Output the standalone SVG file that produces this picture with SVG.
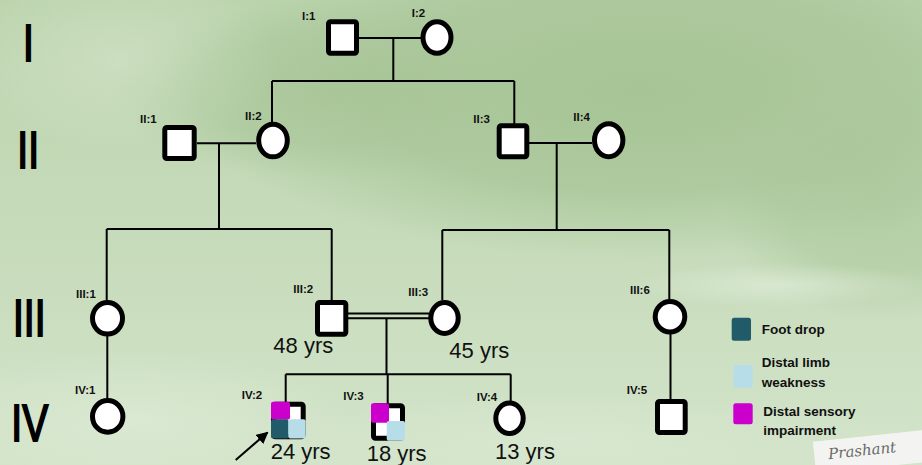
<svg xmlns="http://www.w3.org/2000/svg" width="922" height="465" viewBox="0 0 922 465">
<defs>
  <linearGradient id="bg" x1="0" y1="0" x2="0" y2="1">
    <stop offset="0" stop-color="#bcd4ae"/>
    <stop offset="0.5" stop-color="#c6dbba"/>
    <stop offset="1" stop-color="#d3e4ca"/>
  </linearGradient>
  <radialGradient id="dark1" cx="0.5" cy="0.5" r="0.5">
    <stop offset="0" stop-color="#a6c495" stop-opacity="1"/>
    <stop offset="0.6" stop-color="#a9c699" stop-opacity="0.8"/>
    <stop offset="1" stop-color="#aac89b" stop-opacity="0"/>
  </radialGradient>
  <radialGradient id="light1" cx="0.5" cy="0.5" r="0.5">
    <stop offset="0" stop-color="#e2eedb" stop-opacity="0.9"/>
    <stop offset="1" stop-color="#e2eedb" stop-opacity="0"/>
  </radialGradient>
  <marker id="arrow" viewBox="0 0 10 10" refX="9" refY="5" markerWidth="6" markerHeight="6" orient="auto" markerUnits="strokeWidth">
    <path d="M0,0 L10,5 L0,10 z" fill="#000"/>
  </marker>
  <style>
    .sq { fill:#fff; stroke:#000; stroke-width:5; }
    .ci { fill:#fff; stroke:#000; stroke-width:5; }
    .ln { fill:none; stroke:#000; stroke-width:2; }
    .lbl { font-family:"Liberation Sans", Arial, sans-serif; font-weight:bold; font-size:11.5px; fill:#111; }
    .age { font-family:"Liberation Sans", Arial, sans-serif; font-size:22px; fill:#111; }
    .gen { font-family:"Liberation Sans", Arial, sans-serif; font-size:52px; fill:#000; stroke:#000; stroke-width:2; }
    .leg { font-family:"Liberation Sans", Arial, sans-serif; font-weight:bold; font-size:13.5px; fill:#111; }
    .fd { fill:#215a69; }
    .dl { fill:#b7dde8; }
    .ds { fill:#cc00cc; }
  </style>
</defs>

<g id="background">
  <rect x="0" y="0" width="922" height="465" fill="url(#bg)"/>
  <ellipse cx="640" cy="90" rx="460" ry="170" fill="url(#dark1)"/>
  <ellipse cx="330" cy="90" rx="220" ry="90" fill="url(#dark1)" opacity="0.7"/>
  <ellipse cx="880" cy="200" rx="160" ry="120" fill="url(#dark1)" opacity="0.6"/>
  <ellipse cx="120" cy="60" rx="160" ry="90" fill="url(#light1)" opacity="0.4"/>
  <ellipse cx="130" cy="420" rx="220" ry="70" fill="url(#light1)" opacity="0.6"/>
  <ellipse cx="780" cy="285" rx="150" ry="22" fill="url(#light1)" opacity="0.7"/>
  <ellipse cx="560" cy="440" rx="260" ry="50" fill="url(#light1)" opacity="0.4"/>
</g>

<g id="generations">
  <text class="gen" transform="translate(23,60.7) scale(0.75,1)">I</text>
  <text class="gen" transform="translate(17.3,167.7) scale(0.75,1)">II</text>
  <text class="gen" transform="translate(13,336) scale(0.75,1)">III</text>
  <text class="gen" transform="translate(11.3,441) scale(0.75,1)">IV</text>
</g>

<g id="connectors">
  <path class="ln" d="M358 38 H421 M393.3 38 V81 M272 81 H514.3 M272 81 V122 M514.3 81 V124"/>
  <path class="ln" d="M197 143.3 H256 M219 143.3 V229 M106.7 229 H331.7 M106.7 229 V300 M331.7 229 V300"/>
  <path class="ln" d="M529 143 H592 M556.7 143 V230 M442.3 230 H669.3 M442.3 230 V300 M669.3 230 V299"/>
  <path class="ln" d="M107.3 336 V399"/>
  <path class="ln" d="M348 313.5 H429 M348 318.3 H429" stroke-width="1.8"/>
  <path class="ln" d="M386.5 318.3 V374.3 M285.7 374.3 H510.7 M285.7 374.3 V402 M387.7 374.3 V404 M510.7 374.3 V401"/>
  <path class="ln" d="M670.5 334 V399"/>
  <line x1="235.7" y1="460" x2="267.5" y2="432.5" stroke="#000" stroke-width="2" marker-end="url(#arrow)"/>
</g>

<g id="I-1"><rect class="sq" x="328.5" y="21.8" width="28" height="31.4" rx="2"/><text class="lbl" x="302" y="20">I:1</text></g>
<g id="I-2"><ellipse class="ci" cx="437" cy="37.5" rx="14" ry="15.8"/><text class="lbl" x="411.7" y="16.7">I:2</text></g>
<g id="II-1"><rect class="sq" x="164.8" y="127.5" width="29.4" height="31" rx="2"/><text class="lbl" x="140" y="122.7">II:1</text></g>
<g id="II-2"><ellipse class="ci" cx="273" cy="140.5" rx="14.3" ry="16.3"/><text class="lbl" x="245" y="120">II:2</text></g>
<g id="II-3"><rect class="sq" x="499.2" y="125.8" width="27.6" height="31" rx="2"/><text class="lbl" x="473.3" y="122.7">II:3</text></g>
<g id="II-4"><ellipse class="ci" cx="608.7" cy="140.3" rx="14.2" ry="16.5"/><text class="lbl" x="573.3" y="120.7">II:4</text></g>
<g id="III-1"><ellipse class="ci" cx="107.5" cy="318.3" rx="15" ry="15.8"/><text class="lbl" x="76" y="297.7">III:1</text></g>
<g id="III-2"><rect class="sq" x="317.5" y="302.5" width="28.3" height="31.7" rx="2"/><text class="lbl" x="293.3" y="293.3">III:2</text><text class="age" x="273.3" y="353.3">48 yrs</text></g>
<g id="III-3"><ellipse class="ci" cx="444.5" cy="318" rx="13.7" ry="15.5"/><text class="lbl" x="408.3" y="295.7">III:3</text><text class="age" x="449.3" y="358.3">45 yrs</text></g>
<g id="III-6"><ellipse class="ci" cx="670" cy="316.7" rx="14.8" ry="15.2"/><text class="lbl" x="630" y="294">III:6</text></g>
<g id="IV-1"><ellipse class="ci" cx="107.7" cy="416.4" rx="15.2" ry="15.8"/><text class="lbl" x="75" y="394.3">IV:1</text></g>
<g id="IV-2">
  <rect class="sq" x="273.5" y="404.2" width="29.7" height="32.6" rx="2"/>
  <rect class="ds" x="271" y="401.7" width="19" height="17.8" rx="2"/>
  <rect class="fd" x="271" y="419.3" width="17.6" height="19.2" rx="2"/>
  <rect class="dl" x="288.3" y="419.3" width="17.4" height="19.2" rx="2"/>
  <text class="lbl" x="241.7" y="399.3">IV:2</text>
  <text class="age" x="270.7" y="459.3">24 yrs</text>
</g>
<g id="IV-3">
  <rect class="sq" x="373.5" y="405.8" width="29" height="32.4" rx="2"/>
  <rect class="ds" x="371" y="403.3" width="18" height="19.4" rx="2"/>
  <rect class="dl" x="386.7" y="421" width="18.3" height="19.7" rx="2"/>
  <text class="lbl" x="343.3" y="400">IV:3</text>
  <text class="age" x="366.7" y="461">18 yrs</text>
</g>
<g id="IV-4"><ellipse class="ci" cx="509.5" cy="418.3" rx="13.7" ry="15.2"/><text class="lbl" x="476.7" y="400.7">IV:4</text><text class="age" x="495" y="459.3">13 yrs</text></g>
<g id="IV-5"><rect class="sq" x="657.5" y="401.5" width="27.7" height="31" rx="2"/><text class="lbl" x="626.7" y="394">IV:5</text></g>

<g id="legend">
  <rect class="fd" x="731.7" y="317.7" width="19.3" height="23" rx="2.5"/>
  <text class="leg" x="761.7" y="334.3">Foot drop</text>
  <rect class="dl" x="733.3" y="365" width="19.4" height="22.7" rx="2.5"/>
  <text class="leg" x="761.7" y="366.7">Distal limb</text>
  <text class="leg" x="761.7" y="386.7">weakness</text>
  <rect class="ds" x="733.3" y="403.3" width="19.4" height="21" rx="2.5"/>
  <text class="leg" x="763.3" y="416">Distal sensory</text>
  <text class="leg" x="763.3" y="435">impairment</text>
</g>

<g id="signature" transform="rotate(-6 868 450)">
  <rect x="814" y="436" width="115" height="32" fill="#f3f4f1"/>
  <text x="828" y="455" font-family="'DejaVu Serif', serif" font-style="italic" font-size="15" fill="#6a6a6a">Prashant</text>
</g>
</svg>
